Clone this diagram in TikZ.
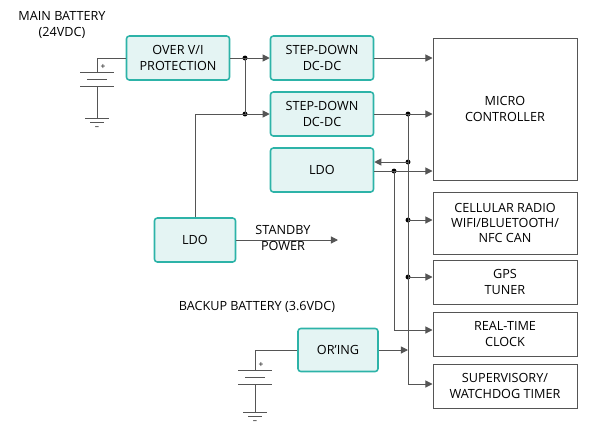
\documentclass[tikz,border=0pt]{standalone}
\usepackage{fontspec}
\setmainfont{Open Sans}
\usetikzlibrary{positioning,arrows.meta}
\definecolor{teal-fill}{HTML}{E4F4F3}
\definecolor{teal-line}{HTML}{2DB3A8}
\definecolor{wire}{HTML}{555555}
\newcommand{\drawBattery}[3]{
	\draw[wire] (#1-17,#2) -- (#1+17,#2);
	\draw[wire] (#1-10,#2+7) -- (#1+10,#2+7);
	\draw[wire] (#1-17,#2+14) -- (#1+17,#2+14);
	\draw[wire] (#1,#2+14) -- (#1,#3);
	\draw[wire] (#1-12,#3) -- (#1+12,#3);
	\draw[wire] (#1-7,#3+4) -- (#1+7,#3+4);
	\node[font=\fontsize{6}{6}\selectfont] at (#1+6,#2-5) {+};
	\node[font=\fontsize{6}{6}\selectfont] at (#1,#3+10) {--};
}

\begin{document}
\begin{tikzpicture}[x=0.025cm, y=-0.025cm,
	font=\fontsize{9}{11}\selectfont,
	block/.style={draw=teal-line, fill=teal-fill, line width=1.1pt, rounded corners=2pt, align=center, inner sep=0pt},
	sink/.style={draw=wire, line width=0.7pt, align=center, inner sep=0pt, minimum width=144\pgflinewidth},
	wire/.style={draw=wire, line width=0.7pt},
	arr/.style={wire, -{Triangle[length=5pt,width=5pt]}},
	dot/.style={circle, fill=black, inner sep=0pt, minimum size=3.5pt}]

	\useasboundingbox (0,0) rectangle (600,442);

	% blocks
	\node[block, minimum width=103*0.025cm, minimum height=44*0.025cm] (prot) at (178,58) {OVER V/I\\PROTECTION};
	\node[block, minimum width=103*0.025cm, minimum height=44*0.025cm] (sdA)  at (322,58) {STEP-DOWN\\DC-DC};
	\node[block, minimum width=103*0.025cm, minimum height=44*0.025cm] (sdB)  at (322,114) {STEP-DOWN\\DC-DC};
	\node[block, minimum width=103*0.025cm, minimum height=44*0.025cm] (ldoA) at (322,170) {LDO};
	\node[block, minimum width=81*0.025cm, minimum height=44*0.025cm]  (ldoB) at (195,240) {LDO};
	\node[block, minimum width=80*0.025cm, minimum height=43*0.025cm]  (oring) at (338,350) {OR'ING};

	% loads
	\node[draw=wire, line width=0.7pt, align=center, minimum width=144*0.025cm, minimum height=142*0.025cm] (mcu)  at (505,109) {MICRO\\CONTROLLER};
	\node[draw=wire, line width=0.7pt, align=center, minimum width=144*0.025cm, minimum height=62*0.025cm]  (cell) at (505,223) {CELLULAR RADIO\\WIFI/BLUETOOTH/\\NFC CAN};
	\node[draw=wire, line width=0.7pt, align=center, minimum width=144*0.025cm, minimum height=44*0.025cm]  (gps)  at (505,282) {GPS\\TUNER};
	\node[draw=wire, line width=0.7pt, align=center, minimum width=144*0.025cm, minimum height=44*0.025cm]  (rtc)  at (505,334) {REAL-TIME\\CLOCK};
	\node[draw=wire, line width=0.7pt, align=center, minimum width=144*0.025cm, minimum height=44*0.025cm]  (sup)  at (505,386) {SUPERVISORY/\\WATCHDOG TIMER};

	% labels
	\node[align=center] (mainlbl) at (62,25) {MAIN BATTERY\\(24VDC)};
	\node (backlbl) at (257,307) {BACKUP BATTERY (3.6VDC)};

	% junctions
	\coordinate (jA) at (245,58);
	\coordinate (jB) at (245,114);
	\coordinate (busA) at (408,114);
	\coordinate (busB) at (394,171);
	\node[dot] at (jA) {};
	\node[dot] at (jB) {};
	\node[dot] at (busA) {};
	\node[dot] at (busB) {};
	\node[dot] at (408,162) {};
	\node[dot] at (408,220) {};
	\node[dot] at (408,277) {};

	% main battery
	\drawBattery{97}{72}{118}
	\draw[wire] (97,72) |- (prot.west);
	\draw[wire] (prot.east) -- (jA);
	\draw[arr] (jA) -- (sdA.west);
	\draw[wire] (jA) -- (jB);
	\draw[arr] (jB) -- (sdB.west);
	\draw[wire] (ldoB.north) |- (jB);

	% outputs
	\draw[arr] (sdA.east) -- (mcu.west |- sdA.east);
	\draw[arr] (sdB.east) -- (mcu.west |- sdB.east);
	\draw[arr] (ldoA.east |- 0,171) -- (mcu.west |- 0,171);
	\draw[arr] (408,162) -- (ldoA.east |- 0,162);
	\draw[wire] (busA) -- (408,384);
	\draw[arr] (408,220) -- (cell.west |- 0,220);
	\draw[arr] (408,277) -- (gps.west |- 0,277);
	\draw[arr] (408,384) -- (sup.west |- 0,384);
	\draw[wire] (busB) -- (394,330);
	\draw[arr] (394,330) -- (rtc.west |- 0,330);

	% standby
	\coordinate (stby) at (338,240);
	\draw[arr] (ldoB.east) -- (stby);
	\node[align=center] at (283,238) {STANDBY\\POWER};

	% backup battery
	\drawBattery{255}{370}{412}
	\draw[wire] (255,370) |- (oring.west);
	\draw[arr] (oring.east) -- (408,350);

\end{tikzpicture}
\end{document}
